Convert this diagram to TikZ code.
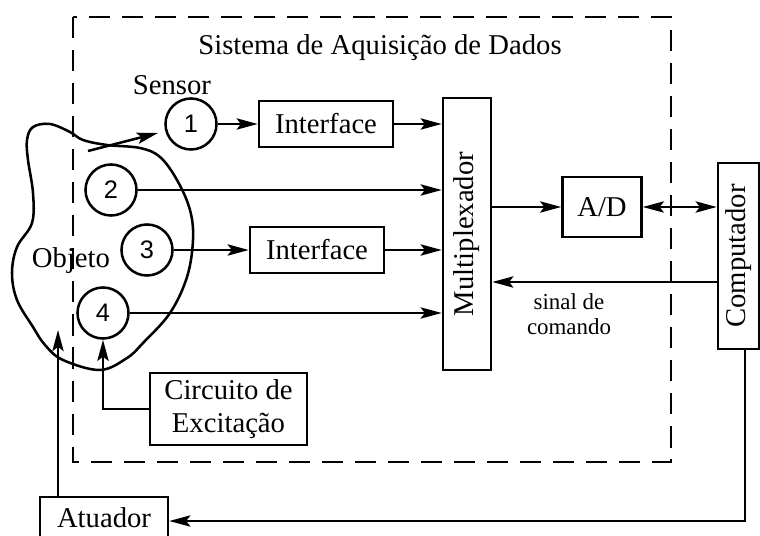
\documentclass[tikz,border=0pt]{standalone}
\usepackage{fontspec}
\setmainfont{Liberation Serif}
\newfontfamily\numfont{Liberation Sans}
\usepackage{tikz}
\usetikzlibrary{calc,arrows.meta}
\tikzset{
	line/.style={line width=1.8pt},
	arr/.style={line width=1.8pt, -{Stealth[length=15pt, width=8pt, inset=3pt]}},
	biarr/.style={line width=1.8pt, {Stealth[length=15pt, width=8pt, inset=3pt]}-{Stealth[length=15pt, width=8pt, inset=3pt]}},
	blk/.style={draw, line width=1.8pt, inner sep=0pt, font=\fontsize{20.4}{23}\selectfont, align=center},
	sens/.style={draw, circle, line width=1.8pt, inner sep=0pt, minimum size=1.275cm, font=\numfont\fontsize{18}{20}\selectfont},
	lbl/.style={font=\fontsize{20.4}{23}\selectfont, anchor=base}
}

\begin{document}
\begin{tikzpicture}[x=0.025cm, y=-0.025cm]
		%%%%% START %%%%%
		\useasboundingbox (0, 0) rectangle (760, 536);
		
		\draw[line, dash pattern=on 15pt off 8.5pt] (73, 17) rectangle (671, 462);
		\node[lbl] (title) at (380, 55) {Sistema de Aquisição de Dados};
		
		% objeto
		\draw[line] plot[smooth cycle, tension=0.6] coordinates {(33, 127) (50, 124) (70, 132) (83, 140) (107, 145) (140, 148) (160, 157) (177, 180) (190, 210) (193, 240) (187, 277) (170, 313) (143, 343) (127, 358) (100, 370) (63, 360) (45, 345) (33, 327) (17, 300) (12, 273) (17, 247) (32, 223) (33, 193) (28, 160) (27, 140)};
		\node[lbl] (objeto) at (71, 268) {Objeto};
		
		% sensores
		\node[lbl] (sensor) at (172, 95) {Sensor};
		\node[sens] (s1) at (191, 124) {1};
		\node[sens] (s2) at (111, 190) {2};
		\node[sens] (s3) at (147, 250) {3};
		\node[sens] (s4) at (103, 313) {4};
		\coordinate (sa) at (88, 151);
		\coordinate (sb) at (158, 133);
		\draw[arr] (sa) -- (sb);
		
		% blocos
		\node[blk, minimum width=3.35cm, minimum height=1.15cm] (if1) at (326, 124) {Interface};
		\node[blk, minimum width=3.35cm, minimum height=1.15cm] (if2) at (317, 250) {Interface};
		\node[blk, minimum width=1.2cm, minimum height=6.8cm] (mux) at (467, 234) {\rotatebox{90}{Multiplexador}};
		\node[blk, minimum width=1.975cm, minimum height=1.5cm] (ad) at (602, 207) {A/D};
		\node[blk, minimum width=1.025cm, minimum height=4.65cm] (comp) at (738.5, 256) {\rotatebox{90}{Computador}};
		\node[blk, minimum width=3.925cm, minimum height=1.8cm] (circ) at (228.5, 409) {Circuito de\\Excitação};
		\node[blk, minimum width=3.2cm, minimum height=1.05cm] (atu) at (104, 518) {Atuador};
		
		\draw[arr] (s1) -- (if1);
		\draw[arr] (if1.east) -- (if1.east -| mux.west);
		\draw[arr] (s2.east) -- (s2.east -| mux.west);
		\draw[arr] (s3) -- (if2);
		\draw[arr] (if2.east) -- (if2.east -| mux.west);
		\draw[arr] (s4.east) -- (s4.east -| mux.west);
		
		\draw[arr] (ad.west -| mux.east) -- (ad.west);
		\draw[biarr] (ad.east) -- (ad.east -| comp.west);
		
		\coordinate (cmd) at (718, 282);
		\draw[arr] (cmd) -- (cmd -| mux.east);
		\node[font=\fontsize{16.3}{17.5}\selectfont, align=center] (sinal) at (569, 314) {sinal de\\comando};
		
		\draw[arr] (circ.west) -| (s4.south);
		
		\coordinate (cb) at (745, 521);
		\draw[arr] (cb |- comp.south) -- (cb) -- (cb -| atu.east);
		\coordinate (obj) at (58, 330);
		\draw[arr] (obj |- atu.north) -- (obj);
		
		%%%%% END %%%%%
	\end{tikzpicture}
\end{document}
